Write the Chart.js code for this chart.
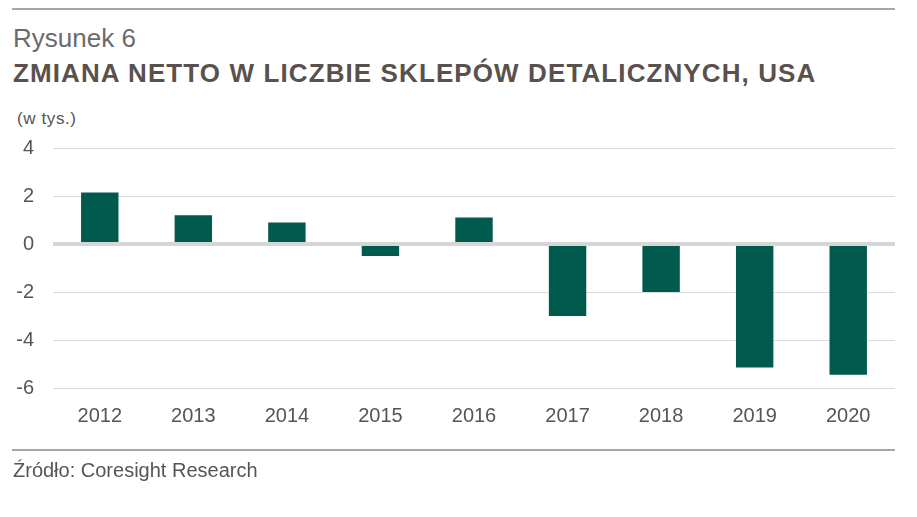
<!DOCTYPE html>
<html>
<head>
<meta charset="utf-8">
<script src="https://cdn.jsdelivr.net/npm/chart.js@4.4.1/dist/chart.umd.min.js"></script>
<style>
  html, body { margin: 0; padding: 0; background: #fff; }
  #wrap { position: relative; width: 917px; height: 517px; overflow: hidden; font-family: "Liberation Sans", Arial, sans-serif; }
  .rule { position: absolute; left: 12px; width: 883px; height: 2px; background: #a6a6a6; }
  .txt { position: absolute; white-space: nowrap; line-height: 1; }
  #fig { left: 13px; top: 25px; font-size: 26px; color: #6b6b6b; }
  #title { left: 13px; top: 60px; font-size: 26px; font-weight: bold; color: #5a514d; letter-spacing: 1.1px; }
  #unit { left: 17px; top: 110px; font-size: 17px; color: #555; letter-spacing: 0.6px; }
  #src { left: 13px; top: 460px; font-size: 20px; color: #555; }
  #chart { position: absolute; left: 0; top: 0; }
</style>
</head>
<body>
<div id="wrap">
  <div class="rule" style="top:8px"></div>
  <div class="txt" id="fig">Rysunek 6</div>
  <div class="txt" id="title">ZMIANA NETTO W LICZBIE SKLEPÓW DETALICZNYCH, USA</div>
  <div class="txt" id="unit">(w tys.)</div>
  <canvas id="chart" width="917" height="517"></canvas>
  <div class="rule" style="top:449px"></div>
  <div class="txt" id="src">Źródło: Coresight Research</div>
</div>
<script>
// dane (w tys. sklepow)
const years = ['2012', '2013', '2014', '2015', '2016', '2017', '2018', '2019', '2020'];
const netChange = [2.15, 1.2, 0.9, -0.5, 1.1, -3.0, -2.0, -5.15, -5.45];
const yMin = -6;
const yMax = 4;
const yStep = 2;

const barColor = '#005a4e';
const textColor = '#555555';

// gruba linia zera rysowana nad slupkami
const zeroLine = {
  id: 'zeroLine',
  afterDatasetsDraw(chart) {
    const { ctx, chartArea, scales } = chart;
    const y = scales.y.getPixelForValue(0);
    ctx.save();
    ctx.strokeStyle = '#d6d6d6';
    ctx.lineWidth = 4;
    ctx.beginPath();
    ctx.moveTo(chartArea.left, y);
    ctx.lineTo(chartArea.right, y);
    ctx.stroke();
    ctx.restore();
  }
};

new Chart(document.getElementById('chart'), {
  type: 'bar',
  data: {
    labels: years,
    datasets: [{
      data: netChange,
      backgroundColor: barColor,
      borderWidth: 0,
      barPercentage: 0.4,
      categoryPercentage: 1
    }]
  },
  options: {
    responsive: false,
    devicePixelRatio: 1,
    animation: false,
    layout: { padding: { top: 148, right: 22, bottom: 81, left: 0 } },
    plugins: {
      legend: { display: false },
      tooltip: { enabled: false }
    },
    scales: {
      x: {
        grid: { display: false },
        border: { display: false },
        ticks: {
          color: textColor,
          font: { family: '"Liberation Sans", Arial, sans-serif', size: 20 },
          padding: 8
        }
      },
      y: {
        min: yMin,
        max: yMax,
        afterFit(scale) { scale.width = 53; },
        grid: { color: '#dcdcdc', lineWidth: 1, drawTicks: false },
        border: { display: false },
        ticks: {
          stepSize: yStep,
          color: textColor,
          font: { family: '"Liberation Sans", Arial, sans-serif', size: 20 },
          padding: 19
        }
      }
    }
  },
  plugins: [zeroLine]
});
</script>
</body>
</html>
